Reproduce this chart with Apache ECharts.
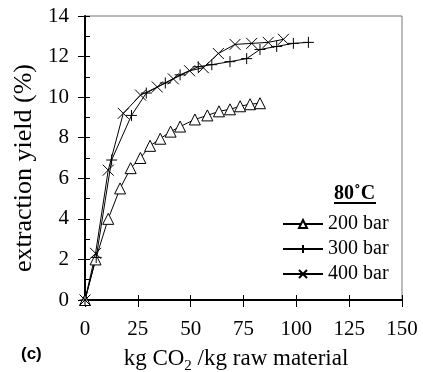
<!DOCTYPE html>
<html lang="en">
<head>
    <meta charset="UTF-8">
    <title>extraction yield 80°C</title>
    <script src="https://cdn.jsdelivr.net/npm/echarts/dist/echarts.min.js"></script>
</head>
<body style="margin: 0">
    <div id="chart" style="width: 423px; height: 372px;"></div>
    <script>
        // values (x = kg CO2/kg raw material, y = yield %)
        const x200 = [0, 5, 11, 16.6, 21.6, 26.2, 30.8, 35.6, 40.5, 45, 52, 57.9, 63.4, 68.6, 73.4, 78.1, 82.8];
        const y200 = [0, 2.0, 4.0, 5.5, 6.5, 7.0, 7.6, 7.95, 8.3, 8.55, 8.9, 9.1, 9.3, 9.4, 9.55, 9.65, 9.7];
        const x300 = [0, 5.3, 12.6, 22, 29, 38, 45, 53.6, 60, 68.6, 76.5, 82.8, 90.7, 98.6, 105.7];
        const y300 = [0, 2.1, 6.9, 9.1, 10.2, 10.7, 11.1, 11.5, 11.6, 11.75, 11.9, 12.35, 12.5, 12.65, 12.7];
        const x400 = [0, 5, 11, 18.1, 26.3, 34.2, 41.8, 49.5, 56, 63.1, 71, 78.9, 86.7, 93.9];
        const y400 = [0, 2.3, 6.4, 9.2, 10.1, 10.5, 10.9, 11.3, 11.45, 12.15, 12.6, 12.65, 12.7, 12.85];
        const seriesNames = ['200 bar', '300 bar', '400 bar'];

        const pair = (xs, ys) => xs.map((v, i) => [v, ys[i]]);
        const serif = 'Liberation Serif';

        // + and x markers drawn as stroked paths
        const plusPath = 'path://M5,0L5,10M0,5L10,5';
        const crossPath = 'path://M0,0L10,10M10,0L0,10';

        const chart = echarts.init(document.getElementById('chart'));

        function lineSeries(name, data, symbol, size, fill) {
            return {
                name: name,
                type: 'line',
                data: data,
                symbol: symbol,
                symbolSize: size,
                showAllSymbol: true,
                lineStyle: { color: '#000', width: 1 },
                itemStyle: { color: fill, borderColor: '#000', borderWidth: 1 },
                emphasis: { disabled: true }
            };
        }

        const option = {
            animation: false,
            textStyle: { fontFamily: serif, color: '#000' },
            grid: {
                left: 85, right: 21, top: 16, bottom: 72,
                outerBoundsMode: 'none',
                show: true, borderColor: '#777', borderWidth: 1
            },
            xAxis: [{
                type: 'value', min: 0, max: 150, interval: 25,
                axisLine: { lineStyle: { color: '#000', width: 2 } },
                axisTick: { length: 7, lineStyle: { color: '#000', width: 1 } },
                axisLabel: { fontSize: 21, color: '#000', margin: 19 },
                splitLine: { show: false }
            }, {
                type: 'value', min: 0, max: 150, interval: 25, position: 'bottom',
                axisLine: { show: false },
                axisTick: { inside: true, length: 5, lineStyle: { color: '#000', width: 1 } },
                axisLabel: { show: false },
                splitLine: { show: false }
            }],
            yAxis: [{
                type: 'value', min: 0, max: 14, interval: 2,
                axisLine: { show: true, lineStyle: { color: '#000', width: 2 } },
                axisTick: { show: true, length: 7, lineStyle: { color: '#000', width: 1 } },
                axisLabel: { fontSize: 21, color: '#000', margin: 16, padding: [11, 0, 0, 0] },
                splitLine: { show: false }
            }, {
                type: 'value', min: 0, max: 14, interval: 1, position: 'left',
                axisLine: { show: false },
                axisTick: { show: true, inside: true, length: 5, lineStyle: { color: '#000', width: 1 } },
                axisLabel: { show: false },
                splitLine: { show: false }
            }],
            legend: {
                orient: 'vertical',
                left: 277, top: 209,
                itemWidth: 40, itemHeight: 10, itemGap: 5,
                textStyle: { fontSize: 20, fontFamily: serif, color: '#000' },
                data: seriesNames,
                selectedMode: false
            },
            graphic: [
                {
                    type: 'text', x: 24, y: 168, rotation: Math.PI / 2,
                    style: { text: 'extraction yield (%)', font: '26px "Liberation Serif"', fill: '#000', align: 'center', verticalAlign: 'middle' }
                },
                {
                    type: 'text', x: 236, y: 359,
                    style: {
                        text: 'kg CO{sub|2} /kg raw material',
                        font: '23px "Liberation Serif"', fill: '#000', align: 'center', verticalAlign: 'middle',
                        rich: { sub: { fontSize: 15, fontFamily: serif, padding: [14, 0, 0, 0] } }
                    }
                },
                { type: 'text', left: 334, top: 184, style: { text: '80˚C', font: 'bold 20px "Liberation Serif"', fill: '#000' } },
                { type: 'line', shape: { x1: 334, y1: 203, x2: 376, y2: 203 }, style: { stroke: '#000', lineWidth: 2 } },
                { type: 'text', left: 21, top: 346, style: { text: '(c)', font: 'bold 17px "Liberation Sans"', fill: '#000' } }
            ],
            series: [
                lineSeries(seriesNames[0], pair(x200, y200), 'triangle', 11, '#fff'),
                lineSeries(seriesNames[1], pair(x300, y300), plusPath, 11, 'none'),
                lineSeries(seriesNames[2], pair(x400, y400), crossPath, 11, 'none')
            ]
        };

        chart.setOption(option);
    </script>
</body>
</html>
